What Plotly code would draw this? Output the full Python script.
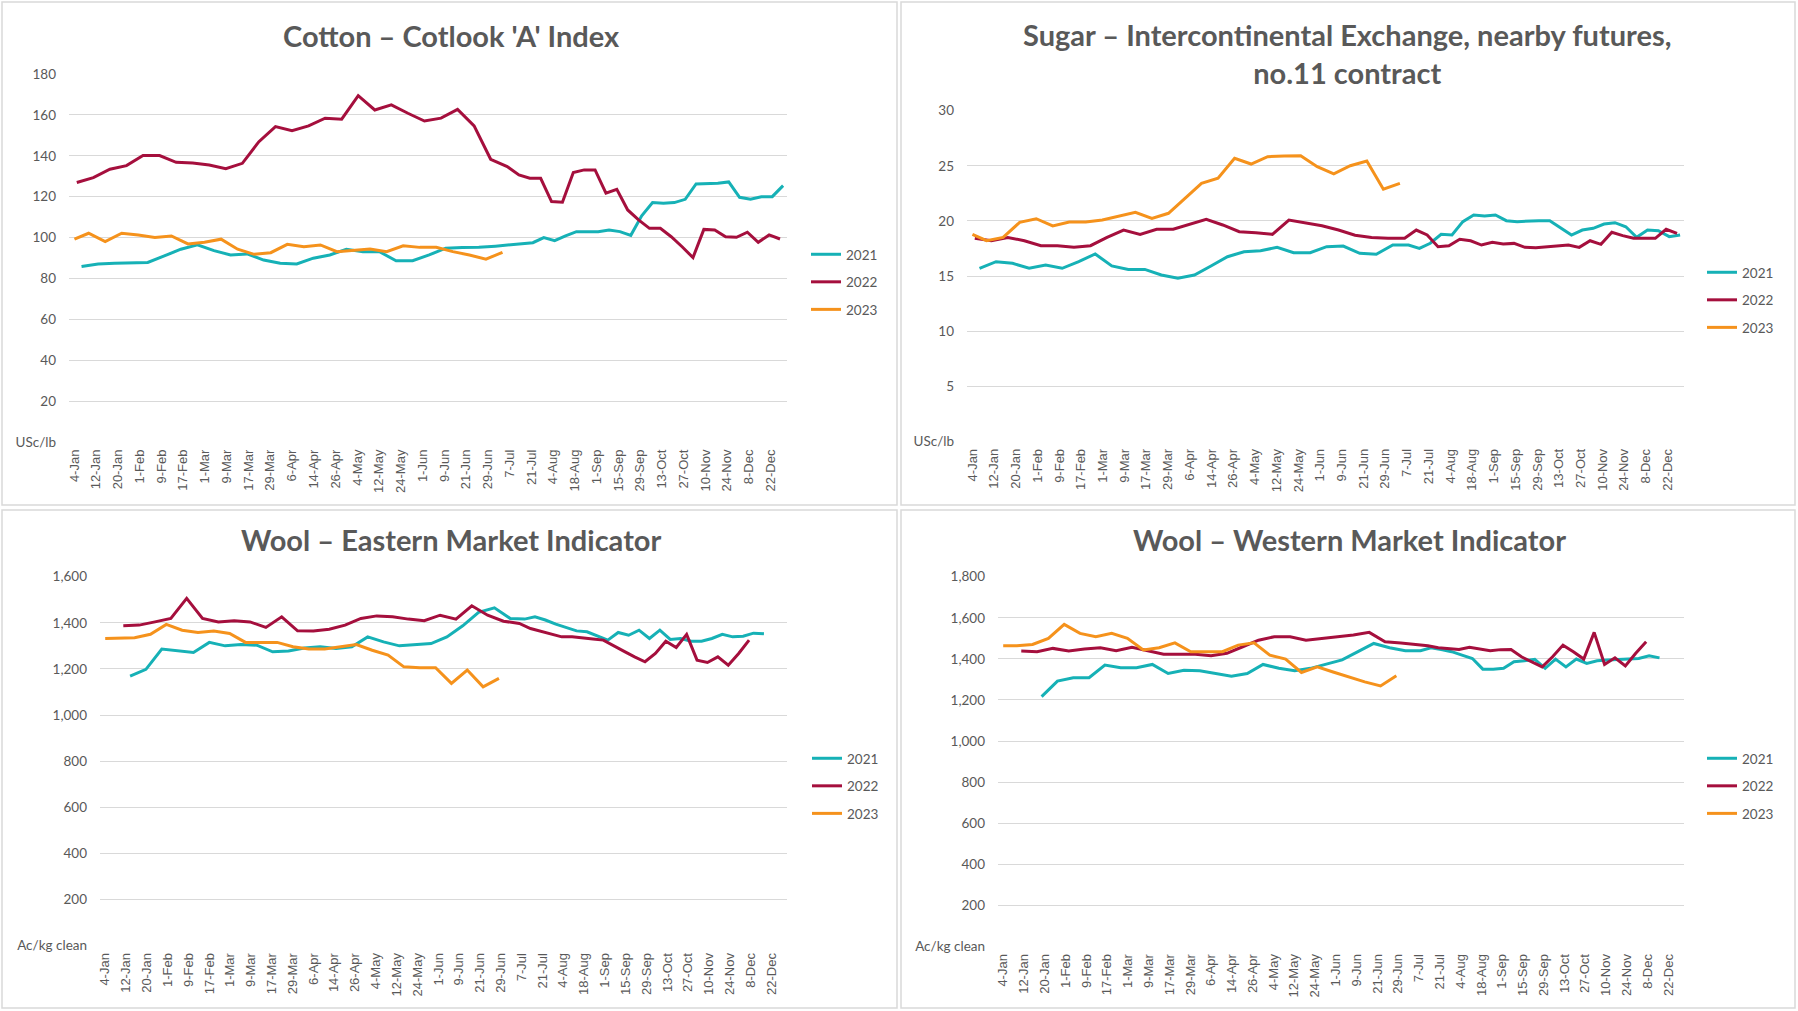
import numpy as np
import pandas as pd
import plotly.graph_objects as go

# ---------------- data ----------------
x_labels = ["4-Jan", "12-Jan", "20-Jan", "1-Feb", "9-Feb", "17-Feb", "1-Mar", "9-Mar", "17-Mar",
            "29-Mar", "6-Apr", "14-Apr", "26-Apr", "4-May", "12-May", "24-May", "1-Jun", "9-Jun",
            "21-Jun", "29-Jun", "7-Jul", "21-Jul", "4-Aug", "18-Aug", "1-Sep", "15-Sep", "29-Sep",
            "13-Oct", "27-Oct", "10-Nov", "24-Nov", "8-Dec", "22-Dec"]
years = ["2021", "2022", "2023"]

# Cotton – Cotlook 'A' Index (USc/lb), weekly
cotton_start = {"2021": "2021-01-07", "2022": "2022-01-05", "2023": "2023-01-03"}
cotton_2021 = [85.8, 87.1, 87.4, 87.6, 87.8, 91.0, 94.3, 96.4, 93.6, 91.5, 92.0, 89.0, 87.4, 87.1,
               89.9, 91.5, 94.3, 93.1, 93.1, 88.6, 88.7, 91.5, 94.8, 95.1, 95.2, 95.8, 96.5, 97.2,
               97.5, 100.0, 98.5, 100.8, 102.9, 102.9, 102.9, 103.7, 102.9, 101.1, 110.6, 117.1,
               116.8, 117.1, 118.7, 126.2, 126.4, 126.6, 127.2, 119.7, 118.7, 120.0, 120.0, 125.4]
cotton_2022 = [126.9, 129.3, 133.4, 135.2, 140.1, 140.1, 136.8, 136.5, 135.5, 133.7, 136.3, 146.9,
               154.3, 152.3, 154.6, 158.4, 157.9, 169.4, 162.4, 164.9, 160.8, 157.0, 158.4, 162.7,
               154.6, 138.3, 134.7, 130.6, 129.0, 129.0, 117.6, 117.3, 131.8, 133.1, 133.1, 121.7,
               123.6, 113.5, 108.6, 104.5, 104.5, 100.4, 95.5, 90.2, 104.0, 103.7, 100.4, 100.1,
               102.6, 97.7, 101.3, 99.3]
cotton_2023 = [99.2, 102.1, 98.0, 102.1, 101.3, 100.0, 100.8, 96.9, 97.7, 99.2, 94.3, 91.8, 92.6,
               96.7, 95.5, 96.4, 93.1, 93.6, 94.4, 93.1, 96.0, 95.2, 95.2, 93.1, 91.5, 89.4, 92.8]

# Sugar – ICE nearby futures no.11 (USc/lb), weekly
sugar_start = {"2021": "2021-01-07", "2022": "2022-01-05", "2023": "2023-01-03"}
sugar_2021 = [15.7, 16.3, 16.15, 15.7, 16.0, 15.7, 16.3, 17.0, 15.91, 15.6, 15.6, 15.09, 14.79,
              15.09, 15.91, 16.75, 17.2, 17.3, 17.6, 17.11, 17.11, 17.66, 17.72, 17.06, 16.97,
              17.81, 17.81, 17.51, 17.97, 18.78, 18.72, 19.93, 20.54, 20.44, 20.54, 20.02, 19.93,
              19.99, 20.02, 20.02, 19.33, 18.72, 19.17, 19.33, 19.72, 19.84, 19.47, 18.51, 19.17,
              19.11, 18.57, 18.72]
sugar_2022 = [18.42, 18.2, 18.5, 18.2, 17.75, 17.75, 17.6, 17.75, 18.5, 19.17, 18.78, 19.24, 19.24,
              19.72, 20.14, 19.63, 19.02, 18.93, 18.78, 20.08, 19.84, 19.56, 19.17, 18.7, 18.5,
              18.42, 18.42, 19.17, 18.72, 17.66, 17.75, 18.33, 18.2, 17.81, 18.06, 17.9, 17.96,
              17.6, 17.57, 17.66, 17.75, 17.81, 17.6, 18.2, 17.87, 18.97, 18.66, 18.42, 18.42,
              18.42, 19.24, 18.87]
sugar_2023 = [18.78, 18.2, 18.5, 19.87, 20.2, 19.54, 19.9, 19.9, 20.08, 20.44, 20.78, 20.23, 20.69,
              22.05, 23.41, 23.87, 25.68, 25.16, 25.83, 25.89, 25.92, 24.92, 24.26, 25.01, 25.43,
              22.87, 23.41]

# Wool – Eastern Market Indicator (Ac/kg clean), weekly sales
weml_start = {"2021": "2021-01-15", "2022": "2022-01-12", "2023": "2023-01-03"}
weml_2021 = [1169, 1198, 1286, 1278, 1271, 1315, 1300, 1306, 1303, 1274, 1278, 1291, 1296, 1289,
             1296, 1339, 1317, 1300, 1306, 1310, 1339, 1387, 1445, 1465, 1419, 1416, 1426, 1412,
             1394, 1378, 1365, 1361, 1342, 1325, 1358, 1346, 1368, 1332, 1368, 1328, 1332, 1320,
             1320, 1332, 1350, 1339, 1342, 1355, 1353]
weml_2022 = [1387, 1390, 1404, 1419, 1506, 1419, 1404, 1409, 1404, 1380, 1426, 1365, 1364, 1372,
             1390, 1419, 1430, 1426, 1416, 1409, 1433, 1416, 1474, 1433, 1407, 1397, 1375, 1364,
             1352, 1339, 1339, 1336, 1330, 1325, 1299, 1276, 1252, 1231, 1267, 1320, 1293, 1350,
             1238, 1228, 1252, 1216, 1267, 1325]
weml_2023 = [1332, 1332, 1335, 1350, 1393, 1368, 1358, 1364, 1354, 1315, 1315, 1315, 1296, 1286,
             1286, 1296, 1306, 1281, 1260, 1209, 1205, 1205, 1137, 1195, 1122, 1159]

# Wool – Western Market Indicator (Ac/kg clean), weekly sales
wwml_start = {"2021": "2021-01-21", "2022": "2022-01-12", "2023": "2023-01-03"}
wwml_2021 = [1216, 1292, 1308, 1308, 1370, 1357, 1357, 1373, 1329, 1345, 1342, 1329, 1316, 1329,
             1373, 1354, 1342, 1354, 1373, 1395, 1435, 1475, 1454, 1440, 1440, 1454, 1446, 1435,
             1418, 1402, 1350, 1350, 1354, 1386, 1391, 1398, 1354, 1399, 1361, 1399, 1378, 1391,
             1394, 1398, 1399, 1402, 1415, 1405]
wwml_2022 = [1438, 1435, 1451, 1438, 1448, 1454, 1440, 1456, 1440, 1423, 1422, 1422, 1415, 1427,
             1459, 1491, 1508, 1508, 1491, 1500, 1508, 1516, 1529, 1483, 1477, 1471, 1464, 1454,
             1449, 1446, 1456, 1448, 1440, 1445, 1446, 1410, 1386, 1361, 1410, 1467, 1435, 1399,
             1529, 1373, 1405, 1366, 1427, 1483]
wwml_2023 = [1464, 1464, 1470, 1500, 1568, 1524, 1508, 1524, 1500, 1443, 1454, 1478, 1435, 1435,
             1435, 1467, 1478, 1418, 1399, 1334, 1361, 1336, 1312, 1288, 1268, 1318]

# ---------------- styling ----------------
COLORS = {"2021": "#16B1B6", "2022": "#A50F3D", "2023": "#F5921C"}
GRID = "#D9D9D9"
TXT = "#595959"
W, H = 1798, 1011

# category axis: labels on every second category, 66 categories
lab_doy = {l: pd.to_datetime(l + "-2021", format="%d-%b-%Y").dayofyear for l in x_labels}
anchor_labels = ["4-Jan", "7-Jul", "22-Dec"]
anchor_doy = np.array([lab_doy[l] for l in anchor_labels], float)
anchor_pos = np.array([2 * x_labels.index(l) for l in anchor_labels], float)
n_cat = 2 * len(x_labels)


def positions(start, n):
    doy = pd.date_range(start, periods=n, freq="7D").dayofyear.to_numpy().astype(float)
    pos = np.interp(doy, anchor_doy, anchor_pos)
    slope = (anchor_pos[-1] - anchor_pos[-2]) / (anchor_doy[-1] - anchor_doy[-2])
    over = doy > anchor_doy[-1]
    pos[over] = anchor_pos[-1] + (doy[over] - anchor_doy[-1]) * slope
    return pos


panels = [
    dict(title="Cotton – Cotlook 'A' Index", title_xy=(452, 35),
         start=cotton_start, data={"2021": cotton_2021, "2022": cotton_2022, "2023": cotton_2023},
         ymax=180, dtick=20, unit="USc/lb", box=(69, 787, 74, 442), legend_xy=(806, 239)),
    dict(title="Sugar – Intercontinental Exchange, nearby futures,<br>no.11 contract", title_xy=(1347, 54),
         start=sugar_start, data={"2021": sugar_2021, "2022": sugar_2022, "2023": sugar_2023},
         ymax=30, dtick=5, unit="USc/lb", box=(967, 1684, 110.7, 441.3), legend_xy=(1702, 257)),
    dict(title="Wool – Eastern Market Indicator", title_xy=(451, 539),
         start=weml_start, data={"2021": weml_2021, "2022": weml_2022, "2023": weml_2023},
         ymax=1600, dtick=200, unit="Ac/kg clean", box=(100, 787, 576.7, 945.5), legend_xy=(807, 743)),
    dict(title="Wool – Western Market Indicator", title_xy=(1349, 539),
         start=wwml_start, data={"2021": wwml_2021, "2022": wwml_2022, "2023": wwml_2023},
         ymax=1800, dtick=200, unit="Ac/kg clean", box=(998, 1684, 576.7, 946.5), legend_xy=(1702, 743)),
]

fig = go.Figure()
layout = dict(width=W, height=H, margin=dict(l=0, r=0, t=0, b=0, pad=0, autoexpand=False),
              template="none", showlegend=True,
              paper_bgcolor="white", plot_bgcolor="white", shapes=[], annotations=[])

# panel frames
for (x0, x1, y0, y1) in [(2, 897, 2, 505), (901, 1795, 2, 505), (2, 897, 510, 1008), (901, 1795, 510, 1008)]:
    layout["shapes"].append(dict(type="rect", xref="paper", yref="paper",
                                 x0=x0 / W, x1=x1 / W, y0=1 - y1 / H, y1=1 - y0 / H,
                                 line=dict(color=GRID, width=1.5), layer="below"))

for i, p in enumerate(panels):
    n = i + 1
    xa = "x" if n == 1 else f"x{n}"
    ya = "y" if n == 1 else f"y{n}"
    leg = "legend" if n == 1 else f"legend{n}"
    for yr in years:
        vals = p["data"][yr]
        fig.add_trace(go.Scatter(
            x=positions(p["start"][yr], len(vals)), y=vals, name=yr, mode="lines",
            line=dict(color=COLORS[yr], width=3), xaxis=xa, yaxis=ya,
            legend=leg, legendgroup=f"{n}-{yr}", showlegend=True,
            hovertemplate=yr + ": %{y}<extra></extra>"))
    x0, x1, yt, yb = p["box"]
    tickv = list(range(0, p["ymax"] + 1, p["dtick"]))
    tickt = [p["unit"] if v == 0 else f"{v:,}" for v in tickv]
    layout["xaxis" if n == 1 else f"xaxis{n}"] = dict(
        domain=[x0 / W, x1 / W], range=[-0.5, n_cat - 0.5], anchor=ya, automargin=False,
        tickmode="array", tickvals=[2 * j for j in range(len(x_labels))], ticktext=x_labels,
        tickangle=-90, showgrid=False, zeroline=False, showline=False, ticks="",
        ticklabelstandoff=4,
        tickfont=dict(family="Liberation Sans, Arial", size=13, color=TXT), fixedrange=True)
    layout["yaxis" if n == 1 else f"yaxis{n}"] = dict(
        domain=[1 - yb / H, 1 - yt / H], range=[0, p["ymax"]], anchor=xa, automargin=False,
        tickmode="array", tickvals=tickv, ticktext=tickt,
        showgrid=True, gridcolor=GRID, gridwidth=1.3, zeroline=False, showline=False, ticks="",
        ticklabelstandoff=12,
        tickfont=dict(family="Lato, Open Sans", size=13.5, color=TXT), fixedrange=True)
    lx, ly = p["legend_xy"]
    layout[leg] = dict(x=lx / W, y=1 - ly / H, xanchor="left", yanchor="top",
                       bgcolor="rgba(0,0,0,0)", borderwidth=0, tracegroupgap=7, itemwidth=30,
                       font=dict(family="Lato, Open Sans", size=13.5, color=TXT))
    tx, ty = p["title_xy"]
    layout["annotations"].append(dict(
        text=f"<b>{p['title']}</b>", x=tx / W, y=1 - ty / H, xref="paper", yref="paper",
        xanchor="center", yanchor="middle", showarrow=False, align="center",
        font=dict(family="Lato, Open Sans", size=29, color=TXT)))

fig.update_layout(**layout)
fig.write_html("out.html", config={"displayModeBar": False},
               post_script="document.body.style.margin='0px';document.body.style.overflow='hidden';")
